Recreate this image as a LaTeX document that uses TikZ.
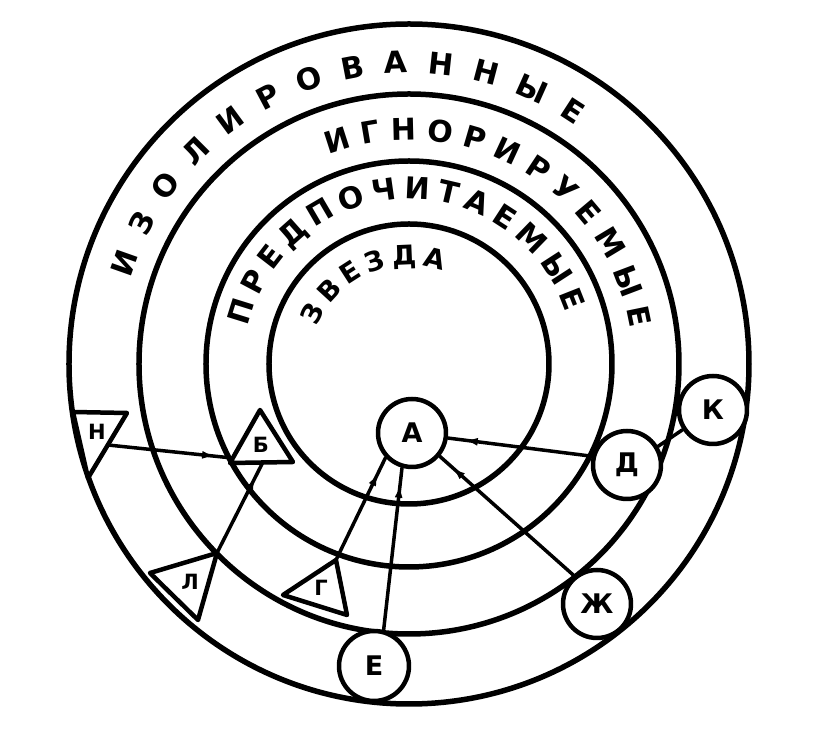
\documentclass[tikz,border=0pt]{standalone}
\usepackage{fontspec}
\setmainfont{DejaVu Sans}
\usetikzlibrary{decorations.text,decorations.markings,arrows.meta}
\begin{document}
\begin{tikzpicture}[x=1pt,y=1pt,line join=round,line cap=round,
 ring/.style={draw,line width=5.5pt},
 circnode/.style={circle,draw,line width=4.5pt,minimum size=68pt,inner sep=0pt,fill=white,font=\bfseries\fontsize{27}{27}\selectfont},
 tri/.style={draw,line width=4.5pt,fill=white},
 trilabel/.style={inner sep=0pt,font=\bfseries\fontsize{21}{21}\selectfont},
 link/.style={line width=3.5pt},
 arrowto/.style={postaction={decorate,decoration={markings,mark=at position 17pt with {\arrowreversed{Latex[length=13pt,width=8pt]}}}}},
 arctext/.style={decorate,decoration={text along path,text align={fit to path},text={|\bfseries\fontsize{30}{30}\selectfont|#1}}},
 arctextsmall/.style={decorate,decoration={text along path,text align={fit to path},text={|\bfseries\fontsize{27}{27}\selectfont|#1}}}
]
\useasboundingbox (-409,-371) rectangle (414,364);

% concentric rings
\draw[ring] (0,0) circle[radius=340pt];
\draw[ring] (0,0) circle[radius=270pt];
\draw[ring] (0,0) circle[radius=203pt];
\draw[ring] (0,0) circle[radius=140pt];

% curved labels
\path[arctext={ИЗОЛИРОВАННЫЕ}] (163:291) arc[start angle=163,end angle=55,radius=291pt];
\path[arctext={ИГНОРИРУЕМЫЕ}] (111:224) arc[start angle=111,end angle=9,radius=224pt];
\path[arctext={ПРЕДПОЧИТАЕМЫЕ}] (167:165) arc[start angle=167,end angle=18,radius=165pt];
\path[arctextsmall={ЗВЕЗДА}] (158:99) arc[start angle=158,end angle=70,radius=99pt];

% triangle corners
\coordinate (H1) at (-336,-48);
\coordinate (H2) at (-282,-49);
\coordinate (H3) at (-321,-114);
\coordinate (Hr) at (-301,-81);
\coordinate (B1) at (-149,-46);
\coordinate (B2) at (-179,-99);
\coordinate (B3) at (-116,-98);
\coordinate (Bl) at (-177,-94);
\coordinate (Bb) at (-146,-98);
\coordinate (L1) at (-259,-209);
\coordinate (L2) at (-192,-189);
\coordinate (L3) at (-211,-256);
\coordinate (G1) at (-126,-231);
\coordinate (G2) at (-73,-196);
\coordinate (G3) at (-62,-251);

% circle nodes
\node[circnode] (A)  at (3,-69)    {А};
\node[circnode] (D)  at (218,-101) {Д};
\node[circnode] (K)  at (304,-46)  {К};
\node[circnode] (Zh) at (188,-240) {Ж};
\node[circnode,minimum size=70pt] (E)  at (-35,-302) {Е};

% connectors
\draw[link,arrowto] (A.352) -- (D.166);
\draw[link] (D.31) -- (K.213);
\draw[link,arrowto] (A.320) -- (Zh.129);
\draw[link,arrowto] (A.223) -- (G2);
\draw[link,arrowto] (A.254) -- (E.75);
\draw[link,arrowto] (Bl) -- (Hr);
\draw[link,arrowto] (Bb) -- (L2);

% triangles
\draw[tri] (H1) -- (H2) -- (H3) -- cycle;
\draw[tri] (B1) -- (B2) -- (B3) -- cycle;
\draw[tri] (L1) -- (L2) -- (L3) -- cycle;
\draw[tri] (G1) -- (G2) -- (G3) -- cycle;
\node[trilabel] (Hlab) at (-312,-68) {Н};
\node[trilabel] (Blab) at (-148,-81) {Б};
\node[trilabel] (Llab) at (-219,-218) {Л};
\node[trilabel] (Glab) at (-88,-224) {Г};
\end{tikzpicture}
\end{document}
